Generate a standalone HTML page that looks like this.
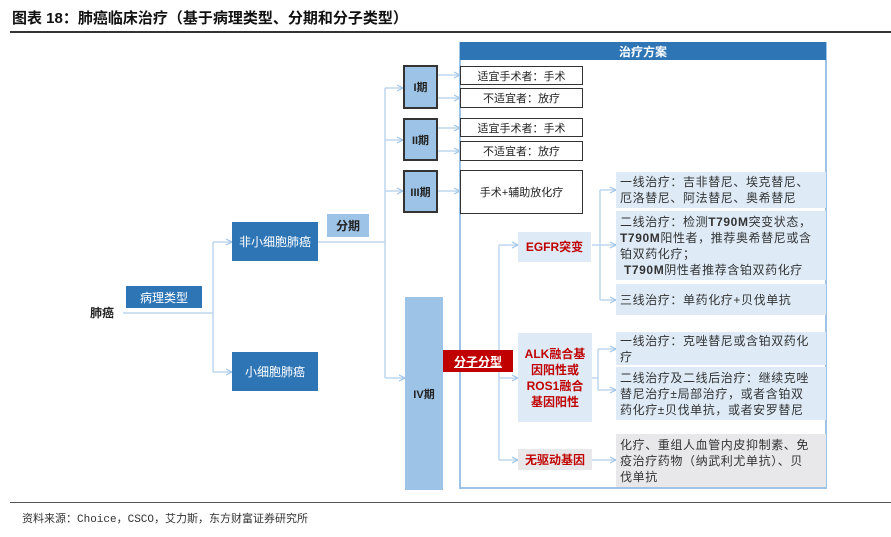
<!DOCTYPE html>
<html><head><meta charset="utf-8"><style>
body{margin:0;width:891px;height:537px;background:#fff;position:relative;overflow:hidden;font-family:"Liberation Sans","Noto Sans CJK SC",sans-serif}
.a{position:absolute;box-sizing:border-box;display:flex;align-items:center;justify-content:center;text-align:center}
.db{background:#2e75b6;color:#fff;font-size:12px}
.lb{background:#9dc3e6;color:#222;font-weight:bold;font-size:11px}
.st{background:#9dc3e6;border:2px solid #333;font-weight:bold;font-size:11px;color:#222}
.tb{background:#fff;border:1.5px solid #333;font-size:11px;color:#222}
.rx{background:#deebf7;justify-content:flex-start;text-align:left;font-size:12px;letter-spacing:0.6px;color:#333;padding:0 4px;line-height:16px}
.red{background:#deebf7;color:#c00000;font-weight:bold;font-size:12px;line-height:16px}
</style></head><body>
<div style="position:absolute;left:12px;top:7px;font-size:15px;font-weight:bold;color:#111">图表 18：肺癌临床治疗（基于病理类型、分期和分子类型）</div>
<div style="position:absolute;left:10px;top:31px;width:881px;height:2px;background:#333"></div>
<div style="position:absolute;left:10px;top:502px;width:881px;height:1px;background:#555"></div>
<div style="position:absolute;left:22px;top:510px;font-size:11px;color:#333;font-family:'Liberation Mono','Noto Sans CJK SC',monospace">资料来源：Choice，CSCO，艾力斯，东方财富证券研究所</div>

<svg width="891" height="537" style="position:absolute;left:0;top:0">
<defs><marker id="m" markerWidth="8" markerHeight="8" refX="7" refY="4" orient="auto" markerUnits="userSpaceOnUse"><path d="M1 1L7 4L1 7" fill="none" stroke="#9dc3e6" stroke-width="1.2"/></marker></defs>
<g stroke="#bdd7ee" stroke-width="1.5" fill="none">
<rect x="460" y="43" width="366" height="445" stroke="#9dc3e6" stroke-width="2"/>
<path d="M123 313H213"/><path d="M213 242V372"/>
<path d="M213 242H232" marker-end="url(#m)"/><path d="M213 372H232" marker-end="url(#m)"/>
<path d="M318 242H385"/><path d="M385 88V378"/>
<path d="M385 88H403" marker-end="url(#m)"/><path d="M385 140H403" marker-end="url(#m)"/><path d="M385 191H403" marker-end="url(#m)"/><path d="M385 378H405" marker-end="url(#m)"/>
<path d="M438 75H460" marker-end="url(#m)"/><path d="M438 98H460" marker-end="url(#m)"/><path d="M438 128H460" marker-end="url(#m)"/><path d="M438 151H460" marker-end="url(#m)"/><path d="M438 191H460" marker-end="url(#m)"/>
<path d="M499 245V460"/>
<path d="M499 245H518" marker-end="url(#m)"/><path d="M499 378H518" marker-end="url(#m)"/><path d="M499 460H518" marker-end="url(#m)"/>
<path d="M592 245H616" marker-end="url(#m)"/><path d="M600 190V300"/>
<path d="M600 190H616" marker-end="url(#m)"/><path d="M600 300H616" marker-end="url(#m)"/>
<path d="M592 378H598"/><path d="M598 349V390"/>
<path d="M598 349H616" marker-end="url(#m)"/><path d="M598 390H616" marker-end="url(#m)"/>
<path d="M592 460H616" marker-end="url(#m)"/>
</g>
</svg>
<div class="a db" style="left:460px;top:42px;width:366px;height:18px;font-weight:bold">治疗方案</div>
<div class="a" style="left:90px;top:304px;font-size:12px;font-weight:bold;color:#222">肺癌</div>
<div class="a db" style="left:126px;top:286px;width:76px;height:22px">病理类型</div>
<div class="a db" style="left:232px;top:222px;width:86px;height:39px">非小细胞肺癌</div>
<div class="a db" style="left:232px;top:352px;width:86px;height:39px">小细胞肺癌</div>
<div class="a lb" style="left:327px;top:214px;width:42px;height:23px;font-size:12px">分期</div>
<div class="a st" style="left:403px;top:65px;width:35px;height:44px">I期</div>
<div class="a st" style="left:403px;top:118px;width:35px;height:43px">II期</div>
<div class="a st" style="left:403px;top:170px;width:35px;height:43px">III期</div>
<div class="a lb" style="left:405px;top:297px;width:38px;height:193px">IV期</div>
<div class="a tb" style="left:460px;top:66px;width:123px;height:19px">适宜手术者：手术</div>
<div class="a tb" style="left:460px;top:88px;width:123px;height:20px">不适宜者：放疗</div>
<div class="a tb" style="left:460px;top:118px;width:123px;height:19px">适宜手术者：手术</div>
<div class="a tb" style="left:460px;top:141px;width:123px;height:20px">不适宜者：放疗</div>
<div class="a tb" style="left:460px;top:170px;width:123px;height:44px">手术+辅助放化疗</div>
<div class="a" style="left:443px;top:350px;width:70px;height:22px;background:#c00000;color:#fff;font-weight:bold;font-size:12px;text-decoration:underline">分子分型</div>
<div class="a red" style="left:518px;top:232px;width:73px;height:30px">EGFR突变</div>
<div class="a red" style="left:518px;top:333px;width:74px;height:89px">ALK融合基<br>因阳性或<br>ROS1融合<br>基因阳性</div>
<div class="a red" style="left:518px;top:449px;width:74px;height:21px;background:#e8e8ea">无驱动基因</div>
<div class="a rx" style="left:616px;top:172px;width:210px;height:36px"><div>一线治疗：吉非替尼、埃克替尼、<br>厄洛替尼、阿法替尼、奥希替尼</div></div>
<div class="a rx" style="left:616px;top:211px;width:210px;height:69px"><div>二线治疗：检测<b>T790M</b>突变状态，<br><b>T790M</b>阳性者，推荐奥希替尼或含<br>铂双药化疗；<br>&nbsp;<b>T790M</b>阴性者推荐含铂双药化疗</div></div>
<div class="a rx" style="left:616px;top:284px;width:210px;height:31px"><div>三线治疗：单药化疗+贝伐单抗</div></div>
<div class="a rx" style="left:616px;top:332px;width:210px;height:33px"><div>一线治疗：克唑替尼或含铂双药化<br>疗</div></div>
<div class="a rx" style="left:616px;top:367px;width:210px;height:53px"><div>二线治疗及二线后治疗：继续克唑<br>替尼治疗±局部治疗，或者含铂双<br>药化疗±贝伐单抗，或者安罗替尼</div></div>
<div class="a rx" style="left:616px;top:434px;width:210px;height:53px;background:#e8e8ea"><div>化疗、重组人血管内皮抑制素、免<br>疫治疗药物（纳武利尤单抗）、贝<br>伐单抗</div></div>
</body></html>
